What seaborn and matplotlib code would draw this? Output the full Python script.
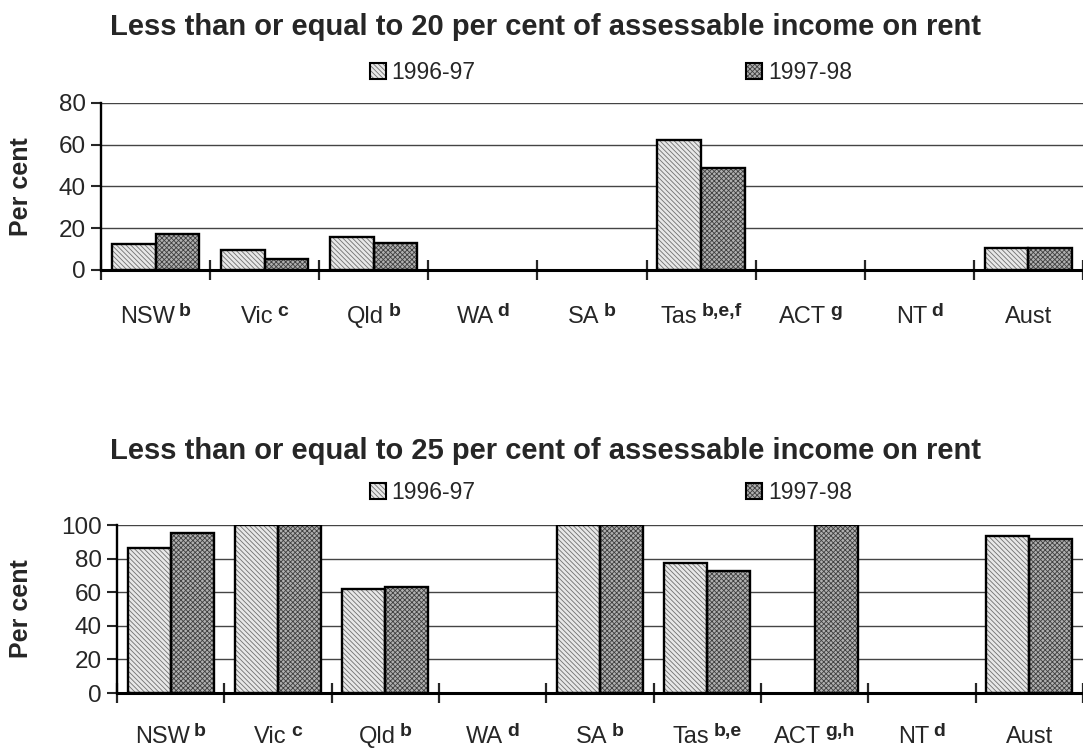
import numpy as np
import pandas as pd
import matplotlib
matplotlib.use("Agg")
import matplotlib.pyplot as plt
import matplotlib.transforms as mtransforms
from matplotlib.patches import Patch, Rectangle
from matplotlib.ticker import FixedLocator, NullFormatter
import seaborn as sns

nan = np.nan
states = ["NSW", "Vic", "Qld", "WA", "SA", "Tas", "ACT", "NT", "Aust"]
sup20 = ["b", "c", "b", "d", "b", "b,e,f", "g", "d", ""]
sup25 = ["b", "c", "b", "d", "b", "b,e", "g,h", "d", ""]
years = ["1996-97", "1997-98"]
r20_9697 = [12.3, 9.6, 15.8, nan, nan, 62.3, nan, nan, 10.7]
r20_9798 = [17.2, 5.3, 13.1, nan, nan, 48.7, nan, nan, 10.4]
r25_9697 = [86.4, 100, 61.8, nan, 100, 77.3, nan, nan, 93.4]
r25_9798 = [95.1, 100, 63.4, nan, 100, 72.8, 100, nan, 91.5]
title20 = "Less than or equal to 20 per cent of assessable income on rent"
title25 = "Less than or equal to 25 per cent of assessable income on rent"
ylabel = "Per cent"
yticks20 = [0, 20, 40, 60, 80]
yticks25 = [0, 20, 40, 60, 80, 100]

sns.set_style("white")
plt.rcParams["font.family"] = ["Liberation Sans", "DejaVu Sans"]
plt.rcParams["hatch.linewidth"] = 0.6

face = {"1996-97": "#e8e8e8", "1997-98": "#b0b0b0"}
hatchc = {"1996-97": "#707070", "1997-98": "#404040"}
hatches = {"1996-97": "\\\\\\\\\\\\\\", "1997-98": "xxxxxxx"}

fig = plt.figure(figsize=(10.83, 7.51), dpi=100)
renderer = fig.canvas.get_renderer()


def add_xlabels(ax, sups, base_px):
    trans = mtransforms.blended_transform_factory(ax.transData, ax.transAxes)
    for i, (name, sp) in enumerate(zip(states, sups)):
        t_main = ax.text(i, 0, name, transform=trans, ha="left",
                         va="baseline", fontsize=17)
        wm = t_main.get_window_extent(renderer).width
        if sp:
            t_sup = ax.text(i, 0, sp, transform=trans, ha="left",
                            va="baseline", fontsize=14, fontweight="bold")
            ws = t_sup.get_window_extent(renderer).width
            gap = 4
            total = wm + gap + ws
            t_sup.set_transform(mtransforms.offset_copy(
                trans, fig=fig, x=-total / 2 + wm + gap, y=-base_px + 7,
                units="dots"))
        else:
            total = wm
        t_main.set_transform(mtransforms.offset_copy(
            trans, fig=fig, x=-total / 2, y=-base_px, units="dots"))


def panel(rect, v1, v2, sups, yticks, title, title_y, leg_y, ylab_x, base_px):
    ax = fig.add_axes(rect)
    df = pd.DataFrame({
        "state": states * 2,
        "year": [years[0]] * len(states) + [years[1]] * len(states),
        "value": list(v1) + list(v2),
    })
    sns.barplot(data=df, x="state", y="value", hue="year", order=states,
                hue_order=years, palette=[face[y] for y in years],
                width=0.8, errorbar=None, legend=False, ax=ax, saturation=1)
    for p in list(ax.patches):
        fc = matplotlib.colors.to_hex(p.get_facecolor())
        yr = years[0] if fc == matplotlib.colors.to_hex(face[years[0]]) else years[1]
        p.set_hatch(hatches[yr])
        p.set_edgecolor(hatchc[yr])
        p.set_linewidth(0)
        if np.isfinite(p.get_height()) and p.get_height() > 0:
            ax.add_patch(Rectangle(p.get_xy(), p.get_width(), p.get_height(),
                                   fill=False, ec="black", lw=1.7, zorder=3))
    ax.set_xlim(-0.5, len(states) - 0.5)
    ax.set_ylim(yticks[0], yticks[-1])
    ax.set_yticks(yticks)
    ax.tick_params(axis="y", direction="out", length=7, width=1.5,
                   labelsize=17.5, pad=4, left=True)
    ax.grid(axis="y", color="#444444", lw=1)
    ax.set_axisbelow(True)
    ax.xaxis.set_major_locator(FixedLocator(np.arange(-0.5, len(states), 1.0)))
    ax.xaxis.set_major_formatter(NullFormatter())
    ax.tick_params(axis="x", which="major", direction="inout", length=15,
                   width=1.6, bottom=True)
    ax.set_xlabel("")
    ax.set_ylabel(ylabel, fontsize=18, fontweight="bold")
    ax.yaxis.set_label_coords(ylab_x, 0.5)
    for s in ["top", "right"]:
        ax.spines[s].set_visible(False)
    ax.spines["left"].set_linewidth(1.7)
    ax.spines["bottom"].set_linewidth(2.2)
    for s in ["left", "bottom"]:
        ax.spines[s].set_color("black")
    add_xlabels(ax, sups, base_px)
    fig.text(0.504, title_y, title, ha="center", va="baseline",
             fontsize=21, fontweight="bold")
    handles = []
    for yr in years:
        h1 = Patch(facecolor=face[yr], edgecolor=hatchc[yr], hatch=hatches[yr], lw=0)
        h2 = Patch(fill=False, edgecolor="black", lw=1.5)
        handles.append((h1, h2))
    fig.legend(handles, years, loc="center", bbox_to_anchor=(0.564, leg_y),
               ncol=2, frameon=False, fontsize=16.5, handlelength=0.7,
               handleheight=0.7, handletextpad=0.25, columnspacing=11.8,
               borderpad=0.1)
    return ax


panel([0.0933, 0.6405, 0.9067, 0.2224], r20_9697, r20_9798, sup20, yticks20,
      title20, 0.953, 0.903, -0.069, 53)
panel([0.108, 0.0772, 0.892, 0.2237], r25_9697, r25_9798, sup25, yticks25,
      title25, 0.389, 0.344, -0.087, 50)

fig.savefig("out.png", dpi=100)
